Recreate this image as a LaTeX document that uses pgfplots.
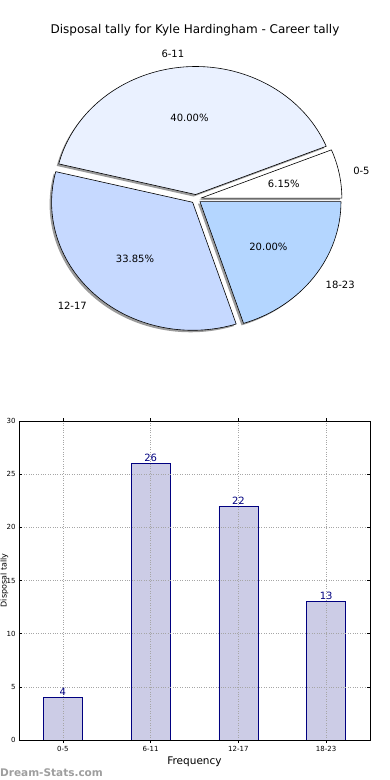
\documentclass[border=0pt]{standalone}
\usepackage{pgfplots}
\pgfplotsset{compat=1.18}
\usepackage{fontspec}
\setmainfont{DejaVu Sans}
\definecolor{navy}{HTML}{000080}
\definecolor{barfill}{HTML}{CCCCE6}
\definecolor{pA}{HTML}{FFFFFF}
\definecolor{pB}{HTML}{EAF1FF}
\definecolor{pC}{HTML}{C6D9FF}
\definecolor{pD}{HTML}{B4D6FF}
\newcommand\explode{0.035}
\newcommand\rx{141pt}
\newcommand\ry{128pt}
\newcommand\slicegeom[2]{%
  \pgfmathsetmacro\m{(#1+#2)/2}%
  \pgfmathsetmacro\ex{\explode*cos(\m)}%
  \pgfmathsetmacro\ey{\explode*sin(\m)}%
  \pgfmathsetmacro\sx{\ex+cos(#1)}%
  \pgfmathsetmacro\sy{\ey+sin(#1)}%
}
\newcommand\pieshadow[2]{%
  \slicegeom{#1}{#2}%
  \fill[black!65,opacity=0.6] ([shift={(-2pt,-2pt)}]axis cs:\ex,\ey) -- ([shift={(-2pt,-2pt)}]axis cs:\sx,\sy) arc[start angle=#1,end angle=#2,x radius=\rx,y radius=\ry] -- cycle;%
}
\newcommand\pieslice[6]{%
  \slicegeom{#1}{#2}%
  \filldraw[fill=#3,draw=black,line width=0.6pt,line join=round] (axis cs:\ex,\ey) -- (axis cs:\sx,\sy) arc[start angle=#1,end angle=#2,x radius=\rx,y radius=\ry] -- cycle;%
  \pgfmathsetmacro\lx{\ex+1.1*cos(\m)}%
  \pgfmathsetmacro\ly{\ey+1.1*sin(\m)}%
  \node[anchor=#6,font=\fontsize{10}{12}\selectfont,inner sep=0pt] at (axis cs:\lx,\ly) {#4};%
  \pgfmathsetmacro\px{\ex+0.6*cos(\m)}%
  \pgfmathsetmacro\py{\ey+0.6*sin(\m)}%
  \node[font=\fontsize{10}{12}\selectfont,inner sep=0pt] at (axis cs:\px,\py) {\pgfmathprintnumber[fixed,fixed zerofill,precision=2,assume math mode=true]{#5}\%};%
}
\begin{document}
\begin{tikzpicture}[x=1pt,y=1pt]
% pie data: counts 4, 26, 22, 13 (total 65)
\pgfmathsetmacro\vA{4}\pgfmathsetmacro\vB{26}\pgfmathsetmacro\vC{22}\pgfmathsetmacro\vD{13}
\pgfmathsetmacro\tot{\vA+\vB+\vC+\vD}
\pgfmathsetmacro\aA{360*\vA/\tot}
\pgfmathsetmacro\aB{\aA+360*\vB/\tot}
\pgfmathsetmacro\aC{\aB+360*\vC/\tot}
\pgfmathsetmacro\pctA{100*\vA/\tot}
\pgfmathsetmacro\pctB{100*\vB/\tot}
\pgfmathsetmacro\pctC{100*\vC/\tot}
\pgfmathsetmacro\pctD{100*\vD/\tot}

\node[font=\fontsize{12}{14}\selectfont] at (195,-30) {Disposal tally for Kyle Hardingham - Career tally};

\begin{axis}[at={(196pt,-199pt)}, anchor=center, scale only axis,
  width=282pt, height=256pt, xmin=-1, xmax=1, ymin=-1, ymax=1,
  hide axis, clip=false]
\addplot[draw=none] coordinates {(0,0)};
\pgfplotsextra{\pieshadow{0}{\aA}}
\pgfplotsextra{\pieshadow{\aA}{\aB}}
\pgfplotsextra{\pieshadow{\aB}{\aC}}
\pgfplotsextra{\pieshadow{\aC}{360}}
\pgfplotsextra{\pieslice{0}{\aA}{pA}{0-5}{\pctA}{west}}
\pgfplotsextra{\pieslice{\aA}{\aB}{pB}{6-11}{\pctB}{east}}
\pgfplotsextra{\pieslice{\aB}{\aC}{pC}{12-17}{\pctC}{east}}
\pgfplotsextra{\pieslice{\aC}{360}{pD}{18-23}{\pctD}{west}}
\end{axis}

\begin{axis}[at={(19pt,-740pt)}, anchor=south west, scale only axis,
  width=351pt, height=319pt,
  xmin=-0.5, xmax=3.5, ymin=0, ymax=30,
  ytick={0,5,10,15,20,25,30},
  xtick={0,1,2,3}, xticklabels={0-5,6-11,12-17,18-23},
  grid=major, grid style={dotted, black!35, line width=0.5pt},
  axis on top,
  tick align=inside, major tick length=3pt,
  tick style={black, line width=0.5pt},
  axis line style={black, line width=0.7pt},
  tick label style={font=\fontsize{7}{8}\selectfont},
  /pgf/number format/assume math mode=true,
  xlabel={Frequency}, ylabel={Disposal tally},
  xlabel style={font=\fontsize{10.5}{12}\selectfont, yshift=2pt},
  ylabel style={font=\fontsize{8}{9}\selectfont, inner sep=0pt, at={(axis description cs:0,0.5)}, anchor=center, yshift=14.5pt},
  ybar, bar width=39pt,
  nodes near coords,
  nodes near coords style={font=\fontsize{10}{12}\selectfont, text=navy, inner sep=1.5pt},
]
\addplot[fill=barfill, draw=navy, line width=0.7pt] coordinates {(0,4) (1,26) (2,22) (3,13)};
\end{axis}

\node[anchor=base west, inner sep=0pt, text=black!38, font=\bfseries\fontsize{10.5}{12}\selectfont] at (0,-776) {Dream-Stats.com};

\pgfresetboundingbox
\path[use as bounding box] (0,0) rectangle (390,-780);
\end{tikzpicture}
\end{document}
